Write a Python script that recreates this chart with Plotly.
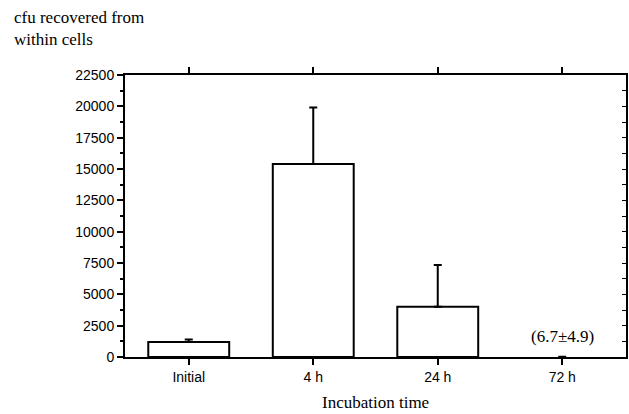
import plotly.graph_objects as go

categories = ["Initial", "4 h", "24 h", "72 h"]
means = [1200, 15400, 4000, 6.7]
errors = [200, 4500, 3350, 4.9]
y_ticks = [0, 2500, 5000, 7500, 10000, 12500, 15000, 17500, 20000, 22500]
note_72h = "(6.7±4.9)"

fig = go.Figure()
fig.add_trace(go.Bar(
    x=categories, y=means, width=0.65,
    marker=dict(color="white", line=dict(color="black", width=[2, 2, 2, 0])),
    error_y=dict(type="data", array=errors, arrayminus=[0] * len(errors), symmetric=False,
                 thickness=2, width=4, color="black"),
    showlegend=False,
))
# invisible trace to drive the right-hand axis with inward ticks
fig.add_trace(go.Scatter(x=categories, y=[None] * 4, yaxis="y2", showlegend=False, hoverinfo="skip"))

axis_font = dict(family="Liberation Sans", size=14, color="black")
serif = "Liberation Serif"

fig.update_layout(
    width=629, height=414,
    margin=dict(l=125, r=1, t=75, b=57),
    paper_bgcolor="white", plot_bgcolor="white",
    xaxis=dict(
        type="category", range=[-0.512, 3.512],
        showline=True, linecolor="black", linewidth=2, mirror="ticks",
        ticks="outside", ticklen=6, tickwidth=2, tickcolor="black",
        tickfont=dict(family="Liberation Sans", size=14, color="black"),
        showgrid=False, zeroline=False,
    ),
    yaxis=dict(
        range=[0, 22500], tickvals=y_ticks, ticktext=[str(v) for v in y_ticks],
        showline=True, linecolor="black", linewidth=2, mirror=True,
        ticks="outside", ticklen=6, tickwidth=1.5, tickcolor="black",
        minor=dict(dtick=1250, ticks="outside", ticklen=3, tickwidth=1.5, tickcolor="black"),
        tickfont=axis_font, showgrid=False, zeroline=False,
    ),
    yaxis2=dict(
        overlaying="y", side="right", range=[0, 22500], dtick=1250,
        ticks="inside", ticklen=4, tickwidth=1, tickcolor="black",
        showticklabels=False, showgrid=False, zeroline=False, showline=False,
    ),
    annotations=[
        dict(text="cfu recovered from<br>within cells", xref="paper", yref="paper",
             x=-0.2247, y=1.245, xanchor="left", yanchor="top", align="left",
             showarrow=False, font=dict(family=serif, size=17, color="black")),
        dict(text="Incubation time", xref="paper", yref="paper",
             x=0.5, y=-0.163, xanchor="center", yanchor="middle",
             showarrow=False, font=dict(family=serif, size=17, color="black")),
        dict(text=note_72h, x=categories[3], y=1600, xref="x", yref="y",
             xanchor="center", yanchor="middle",
             showarrow=False, font=dict(family=serif, size=17, color="black")),
    ],
)

fig.write_html("out.html")
